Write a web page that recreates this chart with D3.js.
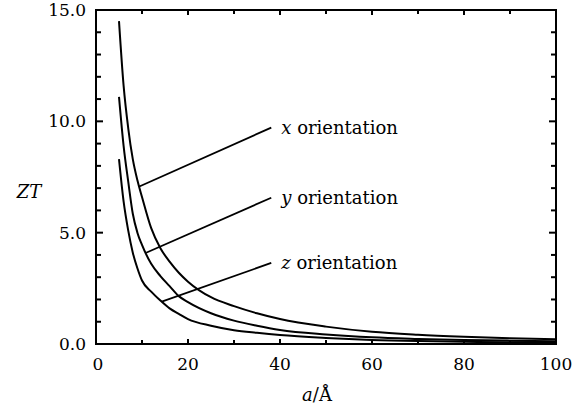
<!DOCTYPE html>
<html><head><meta charset="utf-8">
<script src="https://cdn.jsdelivr.net/npm/d3@7"></script>
<style>body{margin:0;background:#fff;}</style>
</head><body><svg id="c" width="582" height="407" font-family="'DejaVu Serif', 'Liberation Serif', serif"></svg>
<script>
const aValues = [5,6,7,8,9,10,12,14,16,18,20,25,30,35,40,50,60,70,80,90,100];
const ztX = [14.5,11.6,9.7,8.3,7.35,6.6,5.2,4.3,3.7,3.2,2.8,2.1,1.7,1.38,1.12,0.78,0.55,0.42,0.33,0.26,0.21];
const ztY = [11.1,8.9,7.3,5.85,5.0,4.45,3.6,3.05,2.6,2.15,1.88,1.38,1.05,0.82,0.63,0.43,0.30,0.23,0.18,0.15,0.12];
const ztZ = [8.3,6.4,5.1,4.1,3.4,2.85,2.35,1.95,1.6,1.35,1.12,0.82,0.62,0.5,0.4,0.27,0.18,0.13,0.10,0.08,0.07];
const xTicks = [0,20,40,60,80,100];
const yTicks = [0,5,10,15];
const annotations = [
  {label:"x", text:" orientation", from:[9.3,7.06], to:[38.1,9.72]},
  {label:"y", text:" orientation", from:[10.9,4.10], to:[38.1,6.57]},
  {label:"z", text:" orientation", from:[14.3,1.90], to:[38.1,3.64]}
];

const svg = d3.select("#c");
const L=96, R=556, T=10, B=344;
const x = d3.scaleLinear().domain([0,100]).range([L,R]);
const y = d3.scaleLinear().domain([0,15]).range([B,T]);

const fs = 17;
const g = svg.append("g").attr("stroke","#000").attr("stroke-width",2);
d3.range(0,101,10).forEach(v=>{
  const len = v%20===0?5:4;
  g.append("line").attr("x1",x(v)).attr("x2",x(v)).attr("y1",B).attr("y2",B-len);
  g.append("line").attr("x1",x(v)).attr("x2",x(v)).attr("y1",T).attr("y2",T+len);
});
d3.range(0,15.01,1).forEach(v=>{
  const len = v%5===0?7:5;
  g.append("line").attr("x1",L).attr("x2",L+len).attr("y1",y(v)).attr("y2",y(v));
  g.append("line").attr("x1",R).attr("x2",R-len).attr("y1",y(v)).attr("y2",y(v));
});

const line = d3.line().x((d,i)=>x(aValues[i])).y(d=>y(d)).curve(d3.curveMonotoneX);
[ztX,ztY,ztZ].forEach(s=>{
  svg.append("path").datum(s).attr("d",line).attr("fill","none").attr("stroke","#000").attr("stroke-width",2);
});

annotations.forEach(an=>{
  svg.append("line").attr("x1",x(an.from[0])).attr("y1",y(an.from[1]))
    .attr("x2",x(an.to[0])).attr("y2",y(an.to[1])).attr("stroke","#000").attr("stroke-width",1.8);
  const t = svg.append("text").attr("x",x(an.to[0])+10).attr("y",y(an.to[1])+6).attr("font-size",18);
  t.append("tspan").attr("font-style","italic").text(an.label);
  t.append("tspan").text(an.text);
});

svg.append("rect").attr("x",L).attr("y",T).attr("width",R-L).attr("height",B-T)
  .attr("fill","none").attr("stroke","#000").attr("stroke-width",2);

xTicks.forEach(v=>{
  svg.append("text").attr("x",x(v)+(v===0?2:0)).attr("y",370).attr("text-anchor","middle").attr("font-size",fs).text(v);
});
yTicks.forEach(v=>{
  svg.append("text").attr("x",86).attr("y",y(v)+6).attr("text-anchor","end").attr("font-size",fs).text(v.toFixed(1));
});

const xt = svg.append("text").attr("x",317).attr("y",401).attr("text-anchor","middle").attr("font-size",18);
xt.append("tspan").attr("font-style","italic").text("a");
xt.append("tspan").text("/Å");
svg.append("text").attr("x",29).attr("y",198).attr("text-anchor","middle").attr("font-size",18).attr("font-style","italic").text("ZT");
</script></body></html>
